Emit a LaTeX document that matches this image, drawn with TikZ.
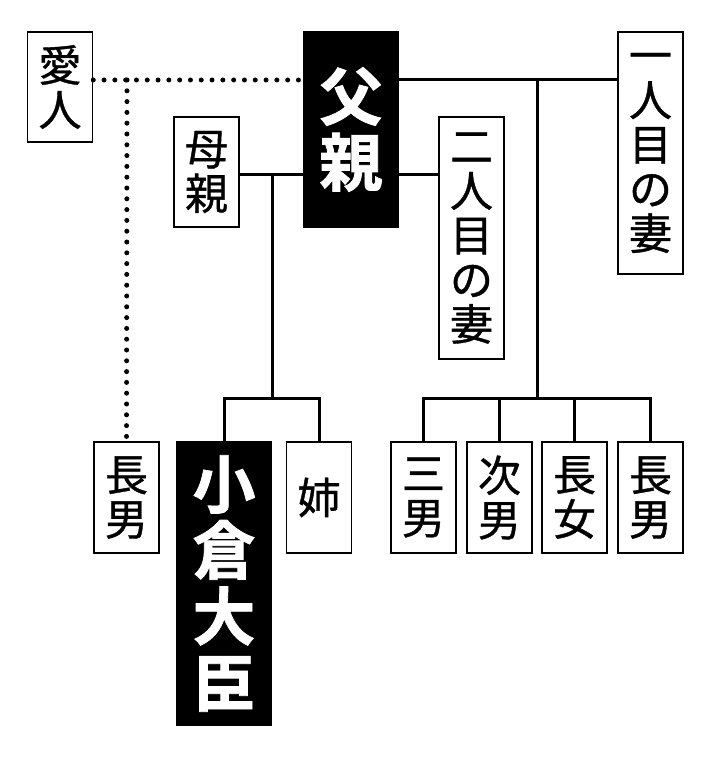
\documentclass[tikz,border=0pt]{standalone}
\usepackage{fontspec}
\newfontfamily\cjk[FakeBold=0.9]{Noto Sans CJK JP}
\newfontfamily\cjkb[FakeBold=1.2]{Noto Sans CJK JP Bold}
\tikzset{
  x=1pt, y=-1pt,
  wbox/.style={draw=black, line width=1.5pt, fill=white, inner sep=0pt, align=center,
    minimum width=65pt, font=\cjk\fontsize{43}{44.5}\selectfont},
  bbox/.style={draw=black, line width=1.5pt, fill=black, text=white, inner sep=0pt, align=center,
    minimum width=94pt, font=\cjkb\fontsize{63}{66}\selectfont},
  link/.style={line width=3pt},
  dotlink/.style={line width=5pt, line cap=round, dash pattern=on 0pt off 10.8pt},
}
\begin{document}
\begin{tikzpicture}
\useasboundingbox (0,0) rectangle (714,757);
% nodes
\node[wbox, minimum height=110pt] (aijin) at (60,87) {愛\\人};
\node[bbox, minimum height=195pt] (father) at (351,129.5) {父\\親};
\node[wbox, minimum height=110pt] (mother) at (206.5,172) {母\\親};
\node[wbox, minimum height=242pt] (wife1) at (650.5,153) {一\\人\\目\\の\\妻};
\node[wbox, minimum height=242pt] (wife2) at (471.5,238) {二\\人\\目\\の\\妻};
\node[wbox, minimum height=111pt] (sonA) at (126.5,497.5) {長\\男};
\node[bbox, minimum height=283pt] (ogura) at (224,583.5) {小\\倉\\大\\臣};
\node[wbox, minimum height=111pt] (ane) at (319,497.5) {姉};
\node[wbox, minimum height=111pt] (k3) at (423.5,497.5) {三\\男};
\node[wbox, minimum height=111pt] (k2) at (499.5,497.5) {次\\男};
\node[wbox, minimum height=111pt] (kd) at (574.5,497.5) {長\\女};
\node[wbox, minimum height=111pt] (k1) at (650.5,497.5) {長\\男};
% junctions
\coordinate (jd) at (127,80);
\coordinate (j1) at (537,80);
\coordinate (j2) at (272,174);
\coordinate (b1) at (537,398);
\coordinate (b2) at (272,398);
% connectors
\draw[dotlink] (aijin.east |- jd) -- (father.west |- jd);
\draw[dotlink] (jd) -- (sonA.north);
\draw[link] (father.east |- j1) -- (wife1.west |- j1);
\draw[link] (mother.east |- j2) -- (father.west |- j2);
\draw[link] (father.east |- j2) -- (wife2.west |- j2);
\draw[link] (j1) -- (b1);
\draw[link] (j2) -- (b2);
\draw[link] (k3.north) -- (k3.north |- b1) -- (k1.north |- b1) -- (k1.north);
\draw[link] (k2.north) -- (k2.north |- b1);
\draw[link] (kd.north) -- (kd.north |- b1);
\draw[link] (ogura.north) -- (ogura.north |- b2) -- (ane.north |- b2) -- (ane.north);
\end{tikzpicture}
\end{document}
